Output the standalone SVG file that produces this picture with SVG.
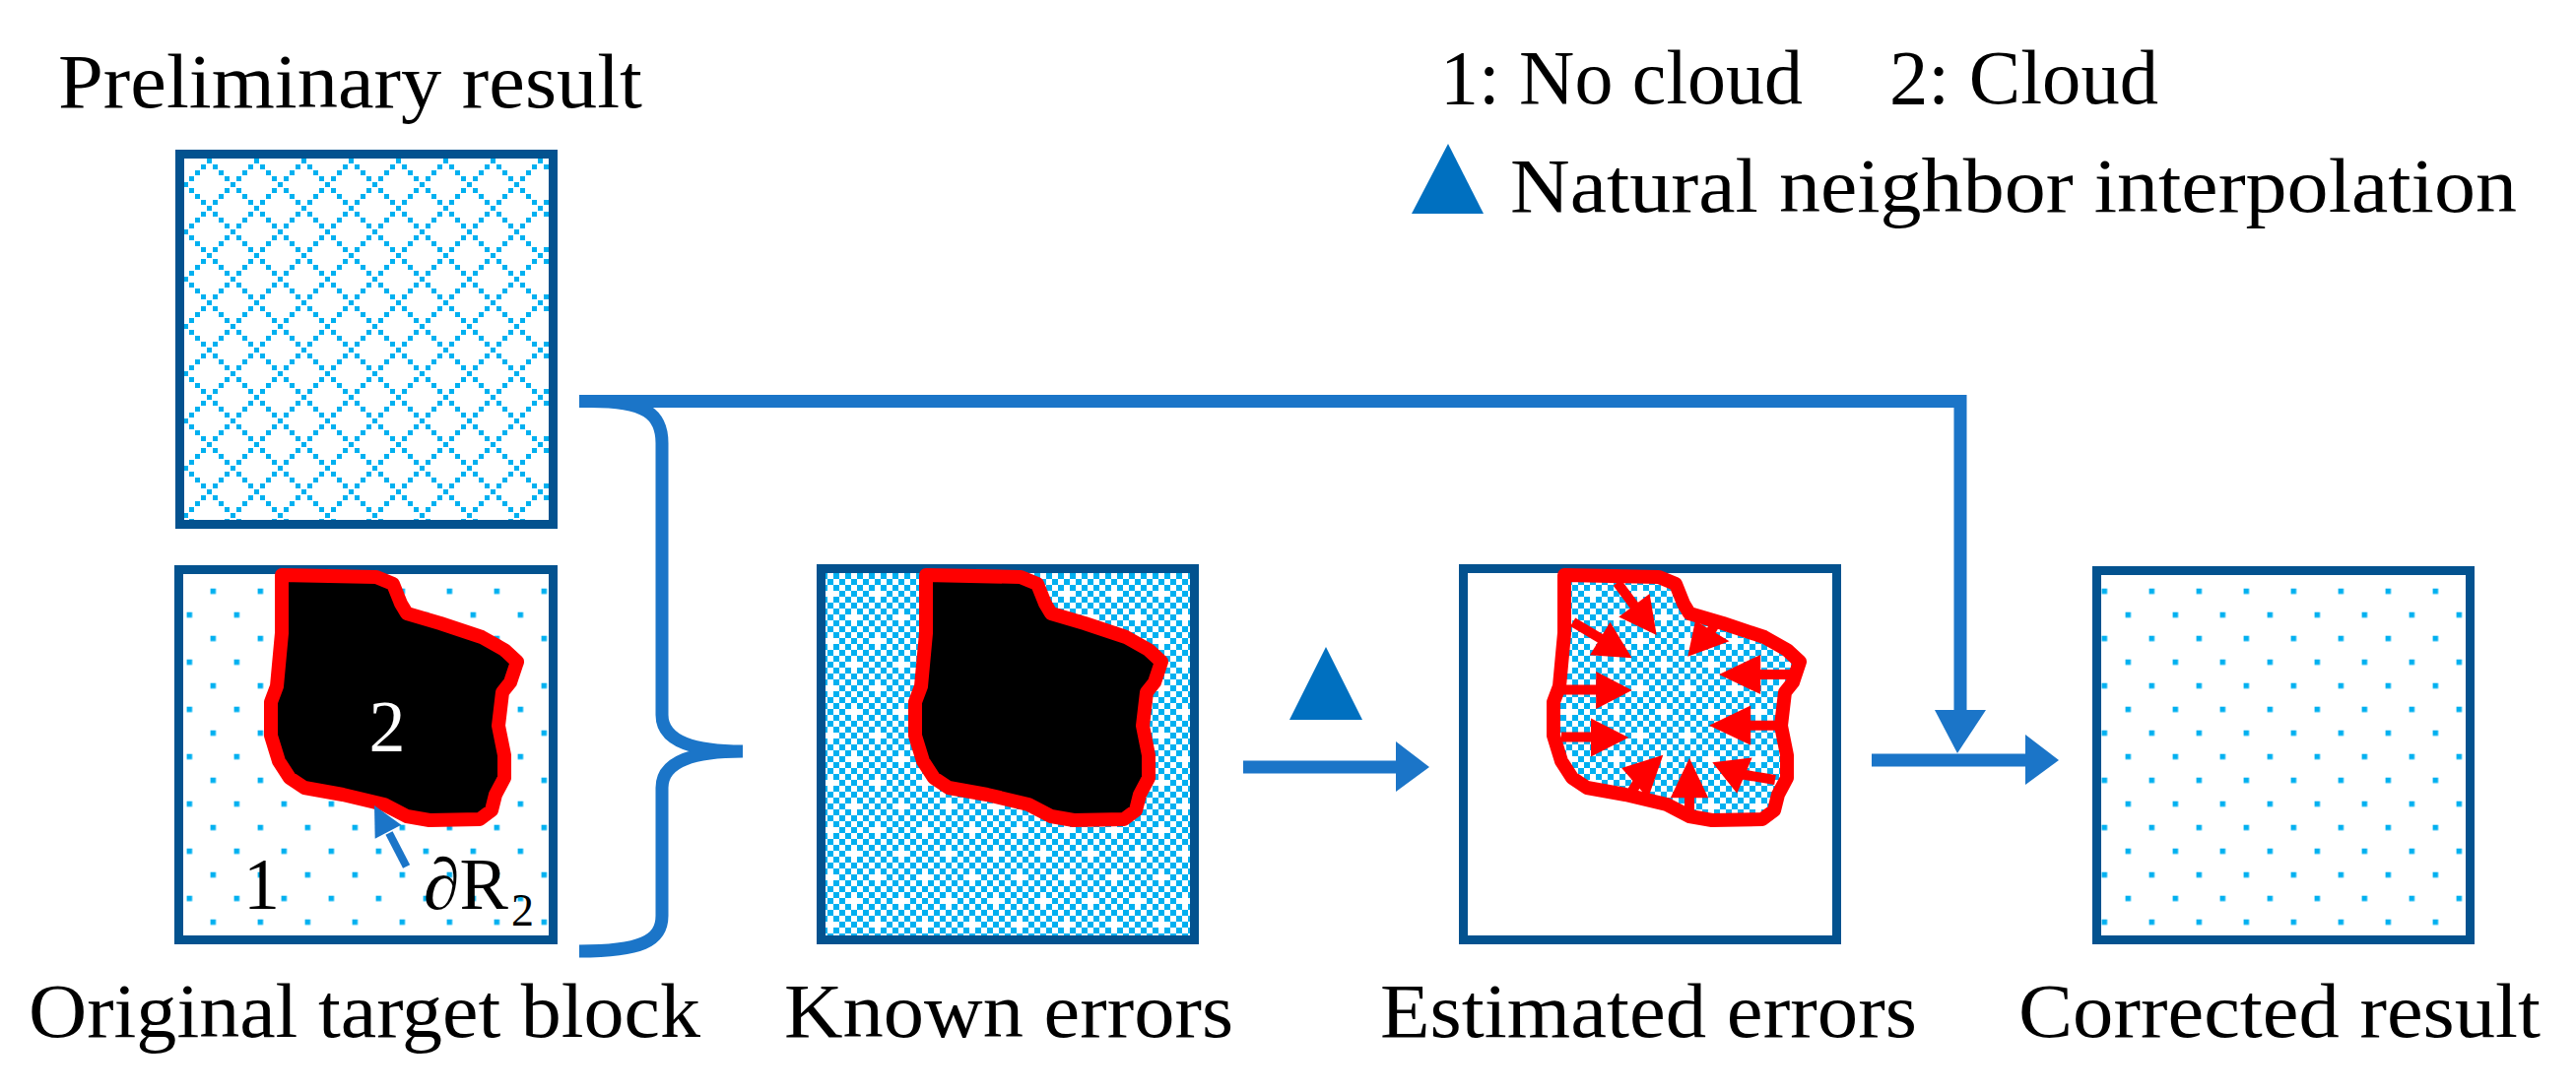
<svg xmlns="http://www.w3.org/2000/svg" xmlns:xlink="http://www.w3.org/1999/xlink" width="2615" height="1109" viewBox="0 0 2615 1109" font-family="'Liberation Serif', 'DejaVu Serif', 'Noto Serif', serif">
<style>
.t{font-family:'Liberation Serif','DejaVu Serif','Noto Serif','Times New Roman',serif;font-size:78px;fill:#000}
.lab{font-family:'Liberation Serif','DejaVu Serif','Noto Serif','Times New Roman',serif;font-size:74px}
.box{fill:none;stroke:#03528F;stroke-width:9}
.conn{fill:none;stroke:#1B75C8;stroke-width:13}
.head{fill:#1B75C8}
.tri{fill:#0070C0}
.rl{stroke:#FF0000;stroke-width:10;fill:none}
.rh{fill:#FF0000}
.outline{fill:none;stroke:#FF0000;stroke-width:14;stroke-linejoin:round}
</style>
<defs>
<pattern id="diamond" patternUnits="userSpaceOnUse" x="18" y="17" width="48" height="48">
<g fill="#00B0F0">
<rect x="0" y="0" width="5" height="5"/><rect x="6" y="6" width="5" height="5"/><rect x="12" y="12" width="5" height="5"/><rect x="18" y="18" width="5" height="5"/><rect x="24" y="24" width="5" height="5"/><rect x="30" y="30" width="5" height="5"/><rect x="36" y="36" width="5" height="5"/><rect x="42" y="42" width="5" height="5"/>
<rect x="42" y="6" width="5" height="5"/><rect x="36" y="12" width="5" height="5"/><rect x="30" y="18" width="5" height="5"/><rect x="18" y="30" width="5" height="5"/><rect x="12" y="36" width="5" height="5"/><rect x="6" y="42" width="5" height="5"/>
</g>
</pattern>
<pattern id="dots" patternUnits="userSpaceOnUse" x="21.6" y="21.7" width="48" height="48">
<rect width="5.5" height="5.5" fill="#00B0F0"/><rect x="24" y="24" width="5.5" height="5.5" fill="#00B0F0"/>
</pattern>
<pattern id="chk" patternUnits="userSpaceOnUse" width="12" height="12">
<rect width="6" height="6" fill="#00B0F0"/><rect x="6" y="6" width="6" height="6" fill="#00B0F0"/>
</pattern>
<pattern id="plus" patternUnits="userSpaceOnUse" width="48" height="48">
<rect width="6" height="6" fill="#FFFFFF"/><rect x="24" y="24" width="6" height="6" fill="#FFFFFF"/>
</pattern>
<path id="blob" d="M286,584 L382,586 L399,593 L407,613 L413,623 L447,633 L489,647 L512,660 L525,672 L518,693 L510,703 L506,737 L512,767 L512,790 L503,807 L499,823 L487,832 L436,833 L413,829 L390,817 L348,807 L309,800 L294,790 L283,773 L275,747 L275,713 L281,697 L286,643 Z"/>
</defs>
<rect width="2615" height="1109" fill="#FFFFFF"/>

<g id="preliminary-result">
<rect x="182.5" y="156.5" width="379" height="376" fill="url(#diamond)"/>
<rect class="box" x="182.5" y="156.5" width="379" height="376"/>
<text class="t" x="59" y="109" textLength="593" lengthAdjust="spacingAndGlyphs">Preliminary result</text>
</g>

<g id="original-target-block">
<rect x="181.5" y="578.5" width="380" height="376" fill="url(#dots)"/>
<rect class="box" x="181.5" y="578.5" width="380" height="376"/>
<use xlink:href="#blob" href="#blob" fill="#000000"/>
<use xlink:href="#blob" href="#blob" class="outline"/>
<text class="lab" x="393" y="763" text-anchor="middle" fill="#FFFFFF">2</text>
<text class="lab" x="265.6" y="923" text-anchor="middle" fill="#000">1</text>
<text class="lab" x="430" y="923" fill="#000">∂R</text>
<text class="lab" x="519" y="940" fill="#000" style="font-size:46px">2</text>
<line x1="412.6" y1="880" x2="395" y2="846" stroke="#1B75C8" stroke-width="8"/>
<polygon class="head" points="380,818 407.3,837.8 380.7,851.8"/>
<text class="t" x="29" y="1053" textLength="682" lengthAdjust="spacingAndGlyphs">Original target block</text>
</g>

<g id="known-errors">
<rect x="833.5" y="577.5" width="379" height="377" fill="url(#chk)"/>
<rect x="833.5" y="577.5" width="379" height="377" fill="url(#plus)"/>
<rect class="box" x="833.5" y="577.5" width="379" height="377"/>
<g transform="translate(654,0)">
<use xlink:href="#blob" href="#blob" fill="#000000"/>
<use xlink:href="#blob" href="#blob" class="outline"/>
</g>
<text class="t" x="796" y="1053" textLength="456" lengthAdjust="spacingAndGlyphs">Known errors</text>
</g>

<g id="estimated-errors">
<rect class="box" x="1485.5" y="577.5" width="379" height="377"/>
<g transform="translate(1302,0)">
<use xlink:href="#blob" href="#blob" fill="url(#chk)"/>
<use xlink:href="#blob" href="#blob" fill="url(#plus)"/>
<use xlink:href="#blob" href="#blob" class="outline"/>
</g>
<g id="inward-arrows">
<line class="rl" x1="1641.7" y1="591.7" x2="1662" y2="619"/>
<polygon class="rh" points="1681.7,645 1643.3,626.4 1674.6,602.9"/>
<line class="rl" x1="1596.7" y1="631.7" x2="1629" y2="651"/>
<polygon class="rh" points="1656.7,668.3 1614,665.2 1634.5,631.8"/>
<line class="rl" x1="1741" y1="634" x2="1735" y2="644"/>
<polygon class="rh" points="1713.3,666.7 1721,630.2 1755.5,651.3"/>
<line class="rl" x1="1822" y1="685" x2="1781" y2="685"/>
<polygon class="rh" points="1745,685 1787.2,664.9 1787.2,705.1"/>
<line class="rl" x1="1806" y1="736.7" x2="1771" y2="736.7"/>
<polygon class="rh" points="1735,736.7 1777.2,716.6 1777.2,756.8"/>
<line class="rl" x1="1802" y1="792" x2="1766" y2="786"/>
<polygon class="rh" points="1738.3,774.3 1778.6,769.4 1763.3,805.8"/>
<line class="rl" x1="1715" y1="830" x2="1715" y2="804"/>
<polygon class="rh" points="1715,770 1695.8,810.3 1734.2,810.3"/>
<line class="rl" x1="1654" y1="808" x2="1664" y2="792"/>
<polygon class="rh" points="1688.3,766.7 1646.2,780 1673,810.7"/>
<line class="rl" x1="1585" y1="748.5" x2="1621" y2="748.5"/>
<polygon class="rh" points="1653.3,749 1615,729.6 1615,768.4"/>
<line class="rl" x1="1583" y1="700.5" x2="1626" y2="700.5"/>
<polygon class="rh" points="1656.7,701 1620.2,681.9 1620.2,720.1"/>
</g>
<text class="t" x="1401" y="1053" textLength="545" lengthAdjust="spacingAndGlyphs">Estimated errors</text>
</g>

<g id="corrected-result">
<rect x="2128.5" y="579.5" width="379" height="375" fill="url(#dots)"/>
<rect class="box" x="2128.5" y="579.5" width="379" height="375"/>
<text class="t" x="2049" y="1053" textLength="530" lengthAdjust="spacingAndGlyphs">Corrected result</text>
</g>

<g id="legend">
<text class="t" x="1462" y="105" textLength="368" lengthAdjust="spacingAndGlyphs">1: No cloud</text>
<text class="t" x="1918" y="105" textLength="273" lengthAdjust="spacingAndGlyphs">2: Cloud</text>
<polygon class="tri" points="1470,146 1433,217 1506,217"/>
<text class="t" x="1533" y="215" textLength="1022" lengthAdjust="spacingAndGlyphs">Natural neighbor interpolation</text>
</g>

<g id="connectors">
<path class="conn" d="M588,966 C650,966 672,956 672,930 V800 C672,776 698,763 754,763 C698,763 672,750 672,726 V450 C672,420 655,407.5 600,407.5"/>
<path class="conn" d="M588,407.5 H1990 V723"/>
<polygon class="head" points="1964,721 2016,721 1987,765"/>
<path class="conn" d="M1900,772 H2058"/>
<polygon class="head" points="2056,746 2056,797 2090,772"/>
<path class="conn" d="M1262,779 H1419"/>
<polygon class="head" points="1417,753 1417,804 1451,779"/>
<polygon class="tri" points="1346,657 1309,731 1383,731"/>
</g>
</svg>
